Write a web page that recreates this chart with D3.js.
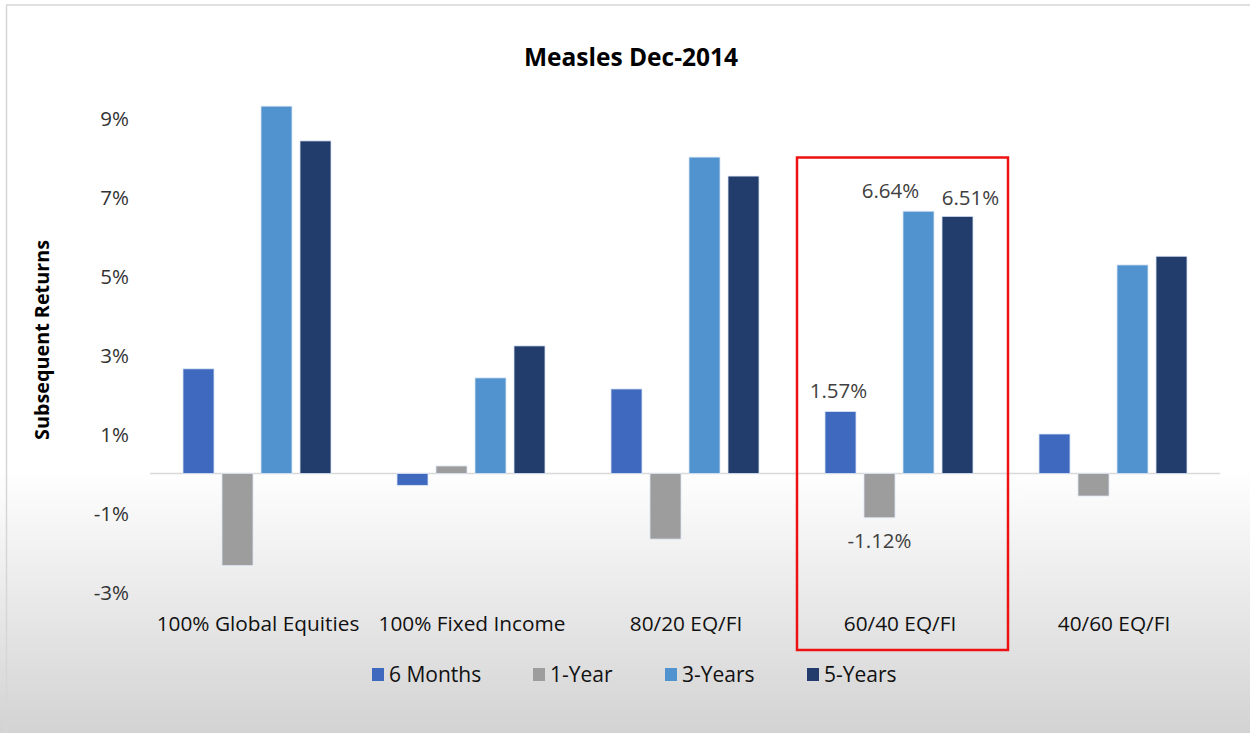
<!DOCTYPE html>
<html>
<head>
<meta charset="utf-8">
<script src="https://cdn.jsdelivr.net/npm/d3@7/dist/d3.min.js"></script>
<style>
  html, body { margin: 0; padding: 0; background: #ffffff; }
  svg { display: block; }
</style>
</head>
<body>
<svg id="chart" width="1250" height="733"></svg>
<script>
const categories = ["100% Global Equities", "100% Fixed Income", "80/20 EQ/FI", "60/40 EQ/FI", "40/60 EQ/FI"];
const seriesNames = ["6 Months", "1-Year", "3-Years", "5-Years"];
const sixMonths = [2.65, -0.30, 2.14, 1.57, 1.00];
const oneYear   = [-2.33, 0.19, -1.66, -1.12, -0.57];
const threeYears = [9.30, 2.42, 8.01, 6.64, 5.28];
const fiveYears  = [8.42, 3.23, 7.53, 6.51, 5.50];
const yTicks = [-3, -1, 1, 3, 5, 7, 9];
const labeledCategory = "60/40 EQ/FI";
const colors = ["#3f69bf", "#9d9d9d", "#5193cf", "#223c6c"];

const seriesValues = [sixMonths, oneYear, threeYears, fiveYears];
const data = categories.map((c, i) => ({
  category: c,
  values: seriesNames.map((s, j) => ({ series: s, value: seriesValues[j][i], idx: j }))
}));

const svg = d3.select("#chart");
const W = 1250, H = 733;
const FONT = "'Open Sans', sans-serif";

// background gradient
const defs = svg.append("defs");
const grad = defs.append("linearGradient").attr("id", "bg").attr("x1", 0).attr("y1", 0).attr("x2", 0).attr("y2", 1);
grad.append("stop").attr("offset", "0%").attr("stop-color", "#ffffff");
grad.append("stop").attr("offset", "64%").attr("stop-color", "#ffffff");
grad.append("stop").attr("offset", "100%").attr("stop-color", "#d3d3d3");
svg.append("rect").attr("x", 0).attr("y", 0).attr("width", W).attr("height", H).attr("fill", "url(#bg)");
// frame lines
svg.append("line").attr("x1", 6).attr("x2", W).attr("y1", 5).attr("y2", 5).attr("stroke", "#d6d6d6").attr("stroke-width", 1.5);
svg.append("line").attr("x1", 6.5).attr("x2", 6.5).attr("y1", 5).attr("y2", H).attr("stroke", "#d6d6d6").attr("stroke-width", 1.5);

const plot = { left: 150, right: 1220 };

const y = d3.scaleLinear().domain([-3.2, 9.9]).range([473.5 + 3.2 * 39.5, 473.5 - 9.9 * 39.5]);
const x0 = d3.scaleBand().domain(categories).range([plot.left, plot.right]).paddingInner(0).paddingOuter(0);
const x1 = d3.scaleBand().domain(seriesNames).range([0, x0.bandwidth()]).paddingInner(0.205).paddingOuter(0.846);

// title
svg.append("text").attr("x", 631).attr("y", 66).attr("text-anchor", "middle")
  .attr("font-family", FONT).attr("font-weight", "bold")
  .attr("font-size", 24.5).attr("fill", "#000").text("Measles Dec-2014");

// y axis title
svg.append("text").attr("transform", "translate(49,340) rotate(-90)").attr("text-anchor", "middle")
  .attr("font-family", FONT).attr("font-weight", "bold")
  .attr("font-size", 19.8).attr("fill", "#000").text("Subsequent Returns");

// y axis (labels only)
const yAxis = d3.axisLeft(y).tickValues(yTicks).tickSize(0).tickPadding(0).tickFormat(d => d + "%");
const yg = svg.append("g").attr("transform", "translate(129,0)").call(yAxis);
yg.select(".domain").remove();
yg.selectAll("text").attr("font-family", FONT).attr("font-size", 20.5).attr("fill", "#333").attr("dy", "0.35em");

// zero line
svg.append("line").attr("x1", plot.left).attr("x2", plot.right).attr("y1", y(0)).attr("y2", y(0))
  .attr("stroke", "#d9d9d9").attr("stroke-width", 1.5);

// bars
const groups = svg.append("g").selectAll("g").data(data).join("g")
  .attr("transform", d => `translate(${x0(d.category)},0)`);
groups.selectAll("rect").data(d => d.values).join("rect")
  .attr("x", d => x1(d.series))
  .attr("width", x1.bandwidth())
  .attr("y", d => y(Math.max(0, d.value)))
  .attr("height", d => Math.abs(y(d.value) - y(0)))
  .attr("fill", d => colors[d.idx])
  .attr("stroke", "#dbe6f5").attr("stroke-width", 0.8);

// data labels for highlighted category
const hl = data.find(d => d.category === labeledCategory);
const lblG = svg.append("g").attr("transform", `translate(${x0(labeledCategory)},0)`);
lblG.selectAll("text").data(hl.values).join("text")
  .attr("x", d => x1(d.series) + x1.bandwidth() / 2 + (d.idx === 3 ? 13 : 0) + (d.idx === 2 ? -28 : 0) + (d.idx === 0 ? -2 : 0))
  .attr("y", d => d.value >= 0 ? y(d.value) - (d.idx === 3 ? 11 : 13) : y(d.value) + 30)
  .attr("text-anchor", "middle")
  .attr("font-family", FONT).attr("font-size", 20.5).attr("fill", "#404040")
  .text(d => d.value.toFixed(2) + "%");

// category labels
svg.append("g").selectAll("text").data(categories).join("text")
  .attr("x", d => x0(d) + x0.bandwidth() / 2 + 1)
  .attr("y", 631)
  .attr("text-anchor", "middle")
  .attr("font-family", FONT).attr("font-size", 20.8).attr("fill", "#111")
  .text(d => d);

// highlight box
svg.append("rect")
  .attr("x", x0(labeledCategory) + 5).attr("y", y(8.0))
  .attr("width", x0.bandwidth() - 3).attr("height", 650 - y(8.0))
  .attr("fill", "none").attr("stroke", "#ee1111").attr("stroke-width", 2.5);

// legend
const legendX = [372, 533, 665, 807];
const lg = svg.append("g").selectAll("g").data(seriesNames).join("g")
  .attr("transform", (d, i) => `translate(${legendX[i]},668)`);
lg.append("rect").attr("width", 12).attr("height", 13).attr("fill", (d, i) => colors[i]);
lg.append("text").attr("x", 17).attr("y", 14)
  .attr("font-family", FONT).attr("font-size", 21).attr("fill", "#111")
  .text(d => d);
</script>
</body>
</html>
